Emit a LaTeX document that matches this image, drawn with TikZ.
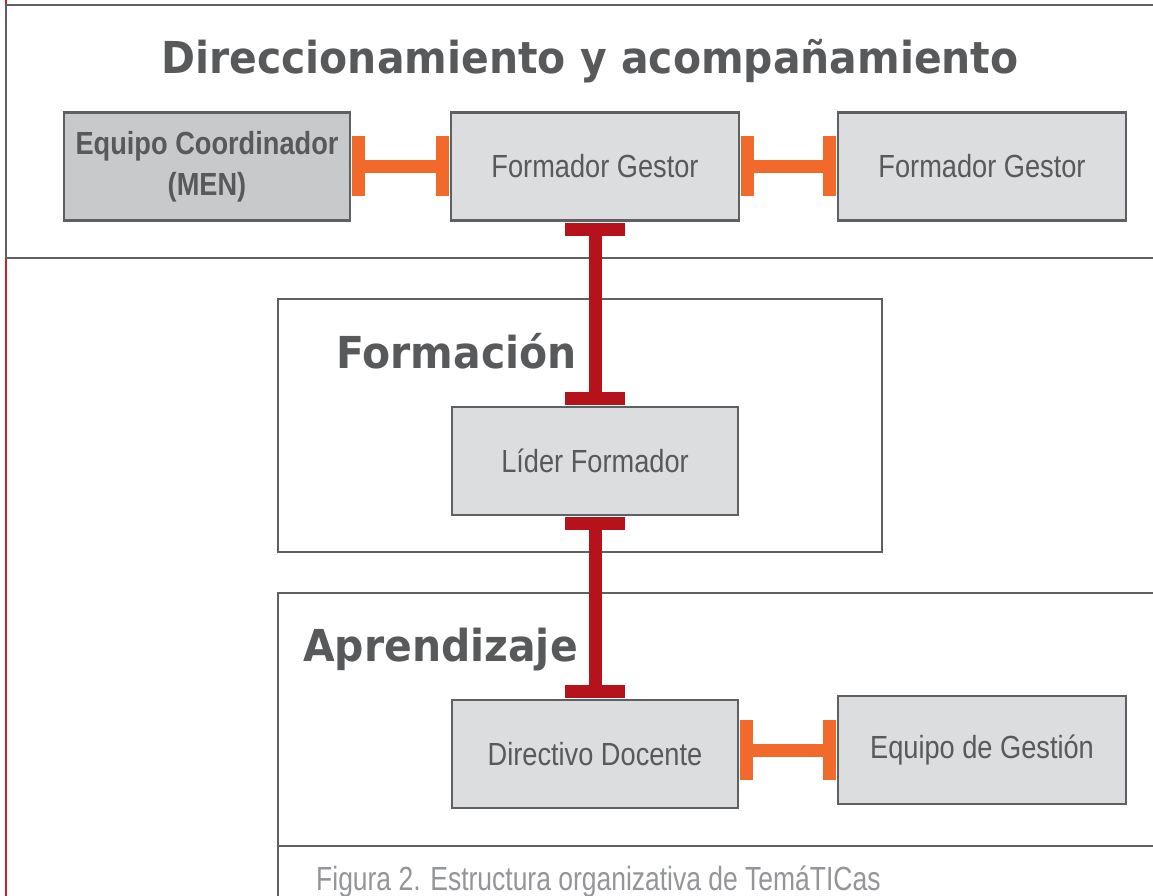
\documentclass[tikz,border=0pt]{standalone}
\usepackage{fontspec}
\usetikzlibrary{arrows.meta}
\newfontfamily\condfont[FakeStretch=0.85]{Liberation Sans}
\newfontfamily\capfont[FakeStretch=0.79]{Liberation Sans}
\newfontfamily\titlefont[FakeStretch=0.93]{DejaVu Sans}
\definecolor{linegray}{HTML}{5F6062}
\definecolor{textgray}{HTML}{58595B}
\definecolor{capgray}{HTML}{939598}
\definecolor{boxfill}{HTML}{DCDDDF}
\definecolor{boxdark}{HTML}{C8C9CB}
\definecolor{orangec}{HTML}{F26A2B}
\definecolor{redc}{HTML}{B5121B}
\definecolor{redline}{HTML}{C8202E}
\tikzset{
  frame/.style={draw=linegray, line width=2.5pt},
  box/.style={draw=linegray, line width=2.5pt, fill=boxfill, minimum width=286pt, minimum height=108pt, inner sep=0pt, align=center, text=textgray, font=\condfont\fontsize{32}{41}\selectfont},
  darkbox/.style={box, fill=boxdark, font=\condfont\bfseries\fontsize{32}{41}\selectfont},
  sectitle/.style={text=textgray, inner sep=0pt, font=\titlefont\bfseries\fontsize{44}{50}\selectfont},
  captext/.style={text=capgray, inner sep=0pt, font=\capfont\fontsize{33.5}{38}\selectfont},
  oconn/.style={draw=orangec, line width=13pt, shorten <=1pt, shorten >=1pt, {Rectangle[length=13pt,width=60pt,line width=0pt]}-{Rectangle[length=13pt,width=60pt,line width=0pt]}},
  rconn/.style={oconn, draw=redc}
}
\begin{document}
\begin{tikzpicture}[x=1pt,y=-1pt]
\useasboundingbox (0,0) rectangle (1153,896);
\fill[white] (0,0) rectangle (1153,896);
% red margin line
\draw[redline, line width=2.5pt] (6,0) -- (6,896);
% frames
\draw[frame] (1153,5) -- (6,5) -- (6,258) -- (1153,258);
\draw[frame] (278,299) rectangle (882,552);
\draw[frame] (1153,593) -- (278,593) -- (278,896);
\draw[frame] (278,846) -- (1153,846);
% section titles
\node[sectitle, anchor=base] (t1) at (590,74) {Direccionamiento y acompañamiento};
\node[sectitle, anchor=base west] (t2) at (336,368) {Formación};
\node[sectitle, anchor=base west] (t3) at (303,661) {Aprendizaje};
% boxes
\node[darkbox] (ec) at (207,166.5) {Equipo Coordinador\\(MEN)};
\node[box, minimum width=288pt] (fg1) at (595,166.5) {Formador Gestor};
\node[box, minimum width=288pt] (fg2) at (982,166.5) {Formador Gestor};
\node[box] (lf) at (595,461) {Líder Formador};
\node[box] (dd) at (595,754) {Directivo Docente};
\node[box, minimum width=288pt] (eg) at (982,750) {Equipo de Gestión};
% connectors
\draw[oconn] (ec.east) -- (fg1.west);
\draw[oconn] (fg1.east) -- (fg2.west);
\draw[rconn] (fg1.south) -- (lf.north);
\draw[rconn] (lf.south) -- (dd.north);
\draw[oconn] (dd.east |- eg.west) -- (eg.west);
% caption
\node[captext, anchor=base west] (cap) at (316,890) {Figura 2. Estructura organizativa de TemáTICas};
\end{tikzpicture}
\end{document}
